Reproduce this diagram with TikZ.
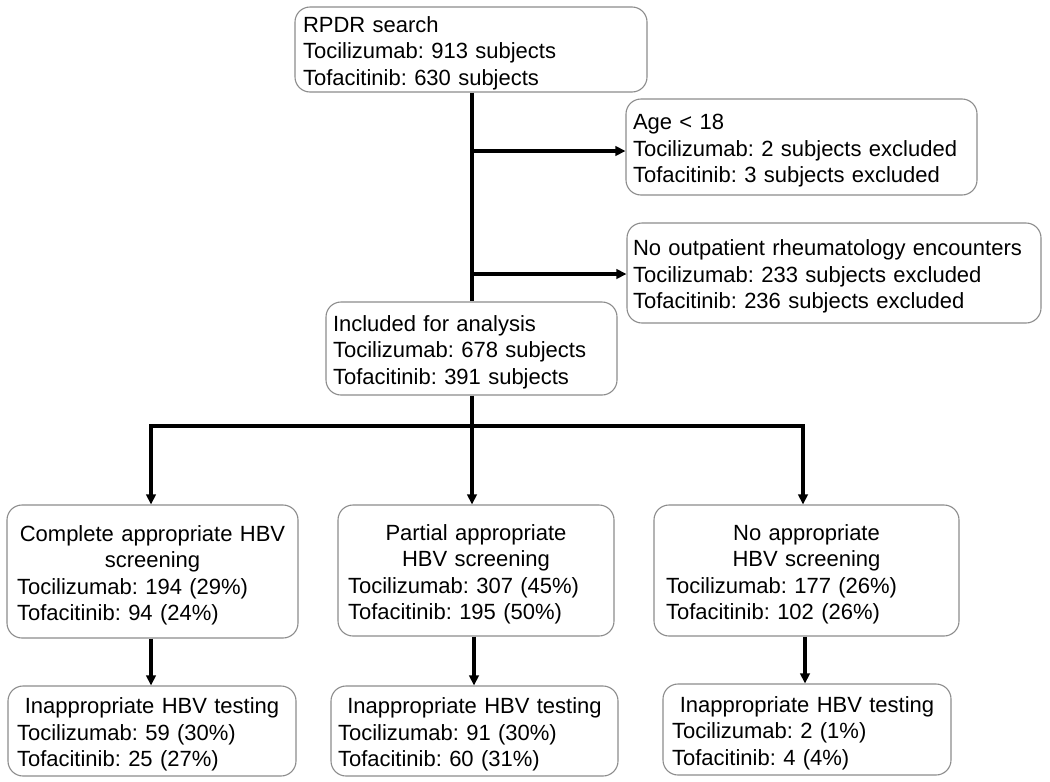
\documentclass[tikz,border=0pt]{standalone}
\usepackage{fontspec}
\setmainfont{Liberation Sans}
\usetikzlibrary{arrows.meta}
\definecolor{boxgray}{RGB}{140,140,140}
\frenchspacing
\newcommand{\tp}{\rule{0pt}{23.5pt}}
\tikzset{
  box/.style={draw=boxgray, line width=1.1pt, rounded corners=15pt, align=left,
    font=\fontsize{22}{26.5}\selectfont\frenchspacing, inner sep=0pt, anchor=center},
  conn/.style={line width=3.6pt, black},
  arr/.style={conn, -{Triangle[length=10pt,width=9.5pt]}},
}
\newcommand{\bx}[7]{% name, x1,y1,x2,y2, pad, text
  \node[box, minimum width={(#4-#2)*1pt}, minimum height={(#5-#3)*1pt},
    text width={(#4-#2-2*#6)*1pt}] (#1) at ({(#2+#4)/2},{(#3+#5)/2}) {#7};}
\begin{document}
\begin{tikzpicture}[x=1pt,y=-1pt]
\useasboundingbox (0,0) rectangle (1050,782);
\bx{rpdr}{295}{7}{647}{92}{8}{\tp RPDR search\\Tocilizumab: 913 subjects\\Tofacitinib: 630 subjects}
\bx{age}{626}{99}{977}{195}{7}{\tp Age {\textless} 18\\Tocilizumab: 2 subjects excluded\\Tofacitinib: 3 subjects excluded}
\bx{noout}{627}{223}{1041}{323}{6}{\tp No outpatient rheumatology encounters\\Tocilizumab: 233 subjects excluded\\Tofacitinib: 236 subjects excluded}
\bx{incl}{326}{302}{617}{395}{7}{\tp Included for analysis\\Tocilizumab: 678 subjects\\Tofacitinib: 391 subjects}
\bx{comp}{7}{505}{298}{638}{10}{{\centering\tp Complete appropriate HBV\\screening\par}Tocilizumab: 194 (29\%)\\Tofacitinib: 94 (24\%)}
\bx{part}{338}{505}{614}{636}{10}{{\centering\tp Partial appropriate\\HBV screening\par}Tocilizumab: 307 (45\%)\\Tofacitinib: 195 (50\%)}
\bx{noap}{654}{505}{959}{636}{12}{{\centering\tp No appropriate\\HBV screening\par}Tocilizumab: 177 (26\%)\\Tofacitinib: 102 (26\%)}
\bx{inap1}{8}{686}{296}{776}{9}{{\centering\tp Inappropriate HBV testing\par}Tocilizumab: 59 (30\%)\\Tofacitinib: 25 (27\%)}
\bx{inap2}{331}{686}{618}{776}{7}{{\centering\tp Inappropriate HBV testing\par}Tocilizumab: 91 (30\%)\\Tofacitinib: 60 (31\%)}
\bx{inap3}{663}{684}{951}{775}{9}{{\centering\tp Inappropriate HBV testing\par}Tocilizumab: 2 (1\%)\\Tofacitinib: 4 (4\%)}
% trunk
\coordinate (b1) at (472,151);
\coordinate (b2) at (472,274);
\draw[conn] (rpdr.south -| b1) -- (incl.north -| b1);
\draw[arr] (b1) -- (b1 -| age.west);
\draw[arr] (b2) -- (b2 -| noout.west);
% split
\coordinate (jl) at (151,426);
\coordinate (jm) at (472,426);
\coordinate (jr) at (803,426);
\draw[conn] (incl.south -| jm) -- (jm);
\draw[conn] ([xshift=-1.8pt]jl) -- ([xshift=1.8pt]jr);
\draw[arr] (jl) -- (jl |- comp.north);
\draw[arr] (jm) -- (jm |- part.north);
\draw[arr] (jr) -- (jr |- noap.north);
% lower arrows
\coordinate (m1) at (151,0);
\coordinate (m2) at (474,0);
\coordinate (m3) at (805,0);
\draw[arr] (m1 |- comp.south) -- (m1 |- inap1.north);
\draw[arr] (m2 |- part.south) -- (m2 |- inap2.north);
\draw[arr] (m3 |- noap.south) -- (m3 |- inap3.north);
\end{tikzpicture}
\end{document}
